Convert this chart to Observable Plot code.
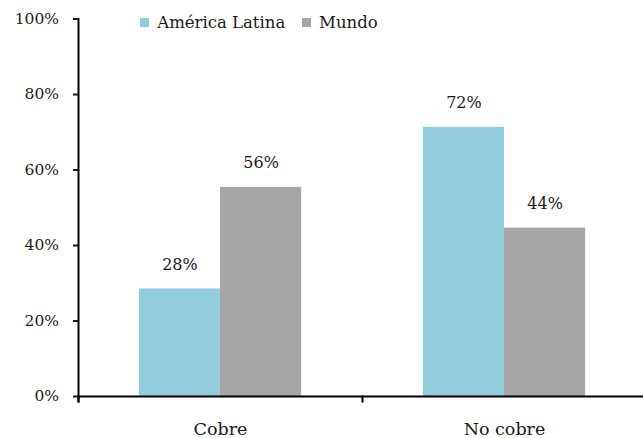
<!DOCTYPE html>
<html><head><meta charset="utf-8">
<script src="https://cdn.jsdelivr.net/npm/d3@7"></script>
<script src="https://cdn.jsdelivr.net/npm/@observablehq/plot@0.6"></script>
<style>
body{margin:0;background:#fff;}
#chart{position:relative;width:643px;height:438px;overflow:hidden;}
#legend{position:absolute;left:140px;top:6px;}
#chart svg, #chart svg text, #legend div, #legend span {font-family: "DejaVu Serif", serif !important;}
</style></head><body>
<div id="chart"><div id="legend"></div></div>
<script>
const categories = ["Cobre", "No cobre"];
const series = ["América Latina", "Mundo"];
const valuesAL = [28.5, 71.3];
const valuesMundo = [55.4, 44.6];
const labelsAL = ["28%", "72%"];
const labelsMundo = ["56%", "44%"];
const colors = ["#93CDDD", "#A6A6A6"];
const yTicks = [0, 20, 40, 60, 80, 100];

const data = [];
categories.forEach((c, i) => {
  data.push({cat: c, series: series[0], value: valuesAL[i], label: labelsAL[i]});
  data.push({cat: c, series: series[1], value: valuesMundo[i], label: labelsMundo[i]});
});

const plot = Plot.plot({
  width: 643, height: 438,
  marginLeft: 78, marginRight: -3, marginTop: 18.5, marginBottom: 42,
  style: {fontSize: "16px", color: "#1a1a1a", background: "#fff"},
  fx: {domain: categories, padding: 0, label: null},
  x: {domain: series, paddingInner: 0, paddingOuter: 0.75, axis: null, round: false},
  y: {domain: [0, 100]},
  color: {domain: series, range: colors},
  marks: [
    Plot.barY(data, {fx: "cat", x: "series", y: "value", fill: "series"}),
    Plot.text(data, {fx: "cat", x: "series", y: "value", text: "label", lineAnchor: "bottom", dy: -19, fontSize: 16}),
    Plot.ruleY([0], {stroke: "#000", strokeWidth: 2}),
    Plot.frame({anchor: "left", facetAnchor: "left", insetBottom: -5, stroke: "#000", strokeWidth: 2}),
    Plot.frame({anchor: "left", insetTop: 377.5, insetBottom: -5, stroke: "#000", strokeWidth: 2}),
    Plot.axisY({ticks: yTicks, tickFormat: d => d + "%", tickSize: 5, tickPadding: 14.5, strokeWidth: 2, fontSize: 15.5, label: null}),
    Plot.axisFx({anchor: "bottom", tickSize: 0, tickPadding: 26, fontSize: 17.5, label: null})
  ]
});
document.getElementById("chart").prepend(plot);

const legend = Plot.legend({
  color: {domain: series, range: colors},
  legend: "swatches",
  swatchSize: 9,
  style: {fontSize: "16.5px", color: "#1a1a1a", background: "transparent"}
});
document.getElementById("legend").appendChild(legend);
</script>
</body></html>
